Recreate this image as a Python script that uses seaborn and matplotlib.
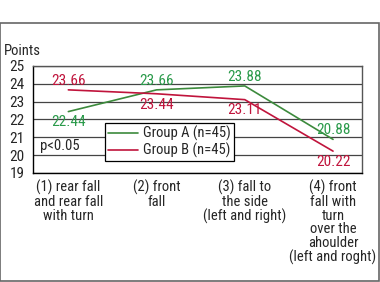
import matplotlib
matplotlib.use("Agg")
import matplotlib.pyplot as plt
import matplotlib.patches as mpatches
import pandas as pd
import seaborn as sns

# values
categories = ["(1) rear fall\nand rear fall\nwith turn",
              "(2) front\nfall",
              "(3) fall to\nthe side\n(left and right)",
              "(4) front\nfall with\nturn\nover the\nahoulder\n(left and roght)"]
group_a = [22.44, 23.66, 23.88, 20.88]
group_b = [23.66, 23.44, 23.11, 20.22]
groups = ["Group A (n=45)", "Group B (n=45)"]
colors = ["#3c8a3c", "#c0143c"]
label_colors = ["#2a9a4a", "#c0143c"]

sns.set_style("white")
plt.rcParams['font.family'] = ['Roboto Condensed', 'DejaVu Sans Condensed', 'DejaVu Sans']
plt.rcParams['font.size'] = 10

df = pd.DataFrame({
    "x": list(range(4)) * 2,
    "points": group_a + group_b,
    "group": [groups[0]] * 4 + [groups[1]] * 4,
})

fig = plt.figure(figsize=(3.8, 2.82), dpi=100)
ax = fig.add_axes([0.087, 0.387, 0.866, 0.379])

sns.lineplot(data=df, x="x", y="points", hue="group", palette=colors,
             linewidth=1.2, ax=ax, legend=True)

ax.set_xlim(-0.4, 3.33)
ax.set_ylim(19, 25)
ax.set_yticks(range(19, 26))
ax.set_xticks(range(4))
ax.set_xticklabels(categories, linespacing=0.98, fontsize=10.5)
ax.set_xlabel("")
ax.set_ylabel("")
ax.grid(axis="y", color="#444444", linewidth=0.9)
ax.set_axisbelow(True)
ax.tick_params(axis="x", direction="in", length=4, width=1, pad=5, color="black")
ax.tick_params(axis="y", direction="out", length=5, width=1, pad=1, color="#444444",
               labelsize=11)
for s in ["left", "bottom"]:
    ax.spines[s].set_color("black")
    ax.spines[s].set_linewidth(1)
for s in ["top", "right"]:
    ax.spines[s].set_color("#555555")
    ax.spines[s].set_linewidth(1)

# value labels
a_off = [-2.5, 1.5, 1.5, 2]
b_off = [1.5, -3, -2.5, -2.5]
for i in range(4):
    ax.annotate(f"{group_a[i]:.2f}", (i, group_a[i]), xytext=(0, a_off[i]),
                textcoords="offset points", ha="center",
                va="bottom" if a_off[i] > 0 else "top",
                color=label_colors[0], fontsize=11)
    ax.annotate(f"{group_b[i]:.2f}", (i, group_b[i]), xytext=(0, b_off[i]),
                textcoords="offset points", ha="center",
                va="bottom" if b_off[i] > 0 else "top",
                color=label_colors[1], fontsize=11)

ax.text(-0.32, 20.5, "p<0.05", fontsize=10.5, va="center")
fig.text(0.01, 0.82, "Points", fontsize=10.5, va="center")

leg = ax.legend(loc="lower left", bbox_to_anchor=(0.22, 0.11), frameon=True,
                fancybox=False, edgecolor="black", framealpha=1,
                handlelength=2.0, handletextpad=0.4, borderpad=0.2,
                labelspacing=0.1, borderaxespad=0, fontsize=10.5)
leg.get_frame().set_linewidth(0.9)

fig.patches.append(mpatches.Rectangle((0.001, 0.003), 0.996, 0.914,
                                      transform=fig.transFigure, fill=False,
                                      edgecolor="#666666", linewidth=1.2))

fig.savefig("out.png", dpi=100)
